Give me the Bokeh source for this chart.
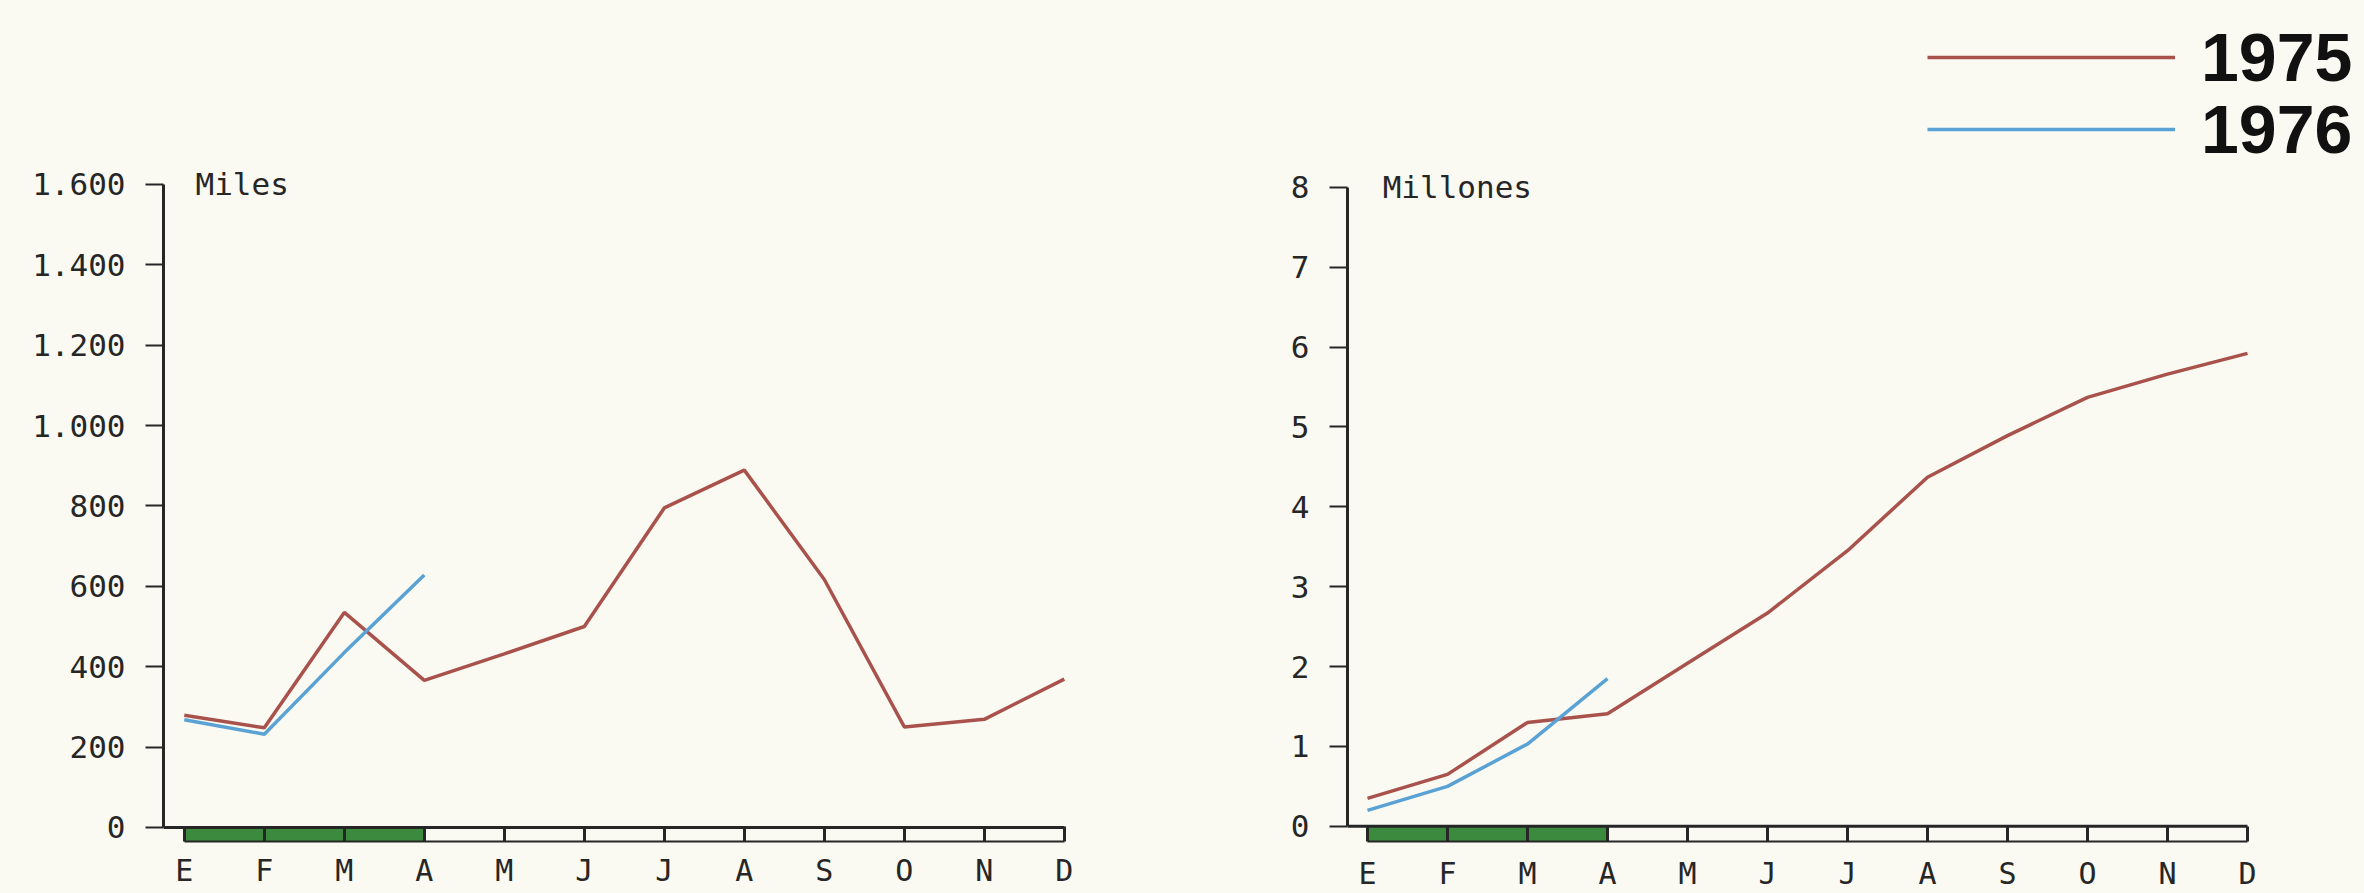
from bokeh.plotting import figure
from bokeh.models import Range1d, FixedTicker, Legend, LegendItem, Label
from bokeh.layouts import row
from bokeh.embed import file_html
from bokeh.resources import INLINE

# ---------------- data ----------------
months = ["E", "F", "M", "A", "M", "J", "J", "A", "S", "O", "N", "D"]
month_idx = list(range(len(months)))

left_unit = "Miles"
left_ticks = [0, 200, 400, 600, 800, 1000, 1200, 1400, 1600]
left_tick_labels = ["0", "200", "400", "600", "800", "1.000", "1.200", "1.400", "1.600"]
left_1975 = [279, 248, 535, 366, 432, 500, 795, 889, 617, 250, 269, 369]
left_1976 = [268, 232, 435, 628]

right_unit = "Millones"
right_ticks = [0, 1, 2, 3, 4, 5, 6, 7, 8]
right_tick_labels = ["0", "1", "2", "3", "4", "5", "6", "7", "8"]
right_1975 = [0.35, 0.65, 1.30, 1.41, 2.04, 2.67, 3.45, 4.37, 4.89, 5.37, 5.66, 5.92]
right_1976 = [0.20, 0.50, 1.03, 1.85]

series_labels = ["1975", "1976"]
band_months = 4  # E..A shaded

# ---------------- style ----------------
BG = "#fafaf3"
RED = "#a9524c"
BLUE = "#5ba2d4"
GREEN = "#3c8a3d"
INK = "#262626"
FONT = "DejaVu Sans Mono"
FIG_H = 893
PX_PER_MONTH = 80


def make_chart(width, border_left, border_right, frame_top, frame_bottom,
               x_lo, y_lo, px_per_unit, axis_top, ticks, tick_labels,
               s75, s76, unit, unit_x, standoff_x):
    frame_w = width - border_left - border_right
    x_hi = x_lo + frame_w / PX_PER_MONTH
    y_hi = y_lo + (frame_bottom - frame_top) / px_per_unit
    p = figure(width=width, height=FIG_H, output_backend="svg", toolbar_location=None,
               x_range=Range1d(x_lo, x_hi), y_range=Range1d(y_lo, y_hi),
               min_border_left=border_left, min_border_right=border_right,
               min_border_top=frame_top, min_border_bottom=10,
               background_fill_color=BG, border_fill_color=BG, outline_line_color=None)
    p.grid.visible = False

    # month band under the axis
    p.quad(left=[0], right=[band_months - 1], bottom=[y_lo], top=[0],
           fill_color=GREEN, line_color=None)
    p.segment(x0=[x_lo], y0=[0], x1=[11], y1=[0], line_color=INK, line_width=3)

    r75 = p.line(month_idx, s75, line_color=RED, line_width=3.5)
    r76 = p.line(month_idx[:len(s76)], s76, line_color=BLUE, line_width=3.5)

    xa = p.xaxis[0]
    xa.ticker = FixedTicker(ticks=month_idx)
    xa.major_label_overrides = {i: m for i, m in zip(month_idx, months)}
    xa.bounds = (0, 11)
    xa.axis_line_color = INK
    xa.axis_line_width = 2
    xa.major_tick_in = 15
    xa.major_tick_out = 0
    xa.major_tick_line_color = INK
    xa.major_tick_line_width = 3
    xa.minor_tick_line_color = None
    xa.major_label_standoff = standoff_x
    xa.major_label_text_font = FONT
    xa.major_label_text_font_size = "30px"
    xa.major_label_text_color = INK

    ya = p.yaxis[0]
    ya.ticker = FixedTicker(ticks=ticks)
    ya.major_label_overrides = {t: l for t, l in zip(ticks, tick_labels)}
    ya.bounds = (0, axis_top)
    ya.axis_line_color = INK
    ya.axis_line_width = 3
    ya.major_tick_in = 0
    ya.major_tick_out = 18
    ya.major_tick_line_color = INK
    ya.major_tick_line_width = 2
    ya.minor_tick_line_color = None
    ya.major_label_standoff = 20
    ya.major_label_text_font = FONT
    ya.major_label_text_font_size = "31px"
    ya.major_label_text_color = INK

    p.add_layout(Label(x=unit_x, y=axis_top, text=unit, text_baseline="middle",
                       text_font=FONT, text_font_size="31px", text_color=INK))
    return p, r75, r76


left, _, _ = make_chart(1208, 163, 139, 5, 841, -0.26, -35, 0.4019, left_ticks[-1],
                        left_ticks, left_tick_labels, left_1975, left_1976,
                        left_unit, 0.14, 11)
right, r75, r76 = make_chart(1156, 139, 4, 5, 838, -0.25, -0.19, 79.6, right_ticks[-1],
                             right_ticks, right_tick_labels, right_1975, right_1976,
                             right_unit, 0.19, 14)

for lab, rend, loc in [(series_labels[0], r75, (580, 745)), (series_labels[1], r76, (580, 673))]:
    lg = Legend(items=[LegendItem(label=lab, renderers=[rend])], location=loc,
                orientation="vertical", padding=0, margin=0, spacing=0,
                border_line_color=None, background_fill_alpha=0,
                glyph_width=248, glyph_height=54, label_standoff=26,
                label_text_font="Liberation Sans", label_text_font_style="bold",
                label_text_font_size="68px", label_text_baseline="alphabetic",
                label_text_color="#111111")
    right.add_layout(lg)

layout = row(left, right)
html = file_html(layout, INLINE)
html = html.replace("</head>", "<style>html, body { background: %s; }</style></head>" % BG, 1)
open("out.html", "w").write(html)
